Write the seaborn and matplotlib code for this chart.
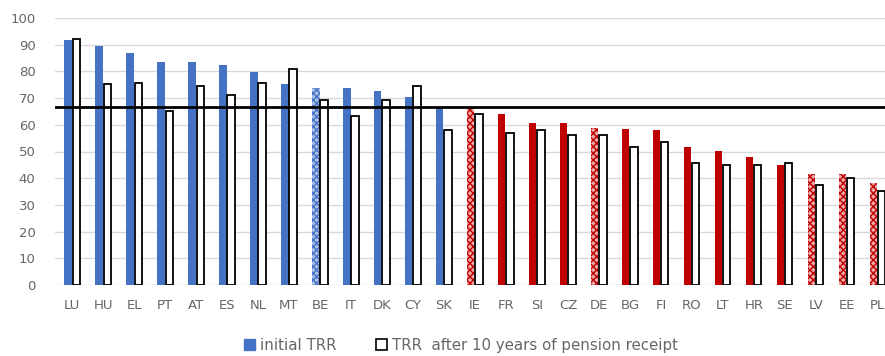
import pandas as pd
import matplotlib
matplotlib.use("Agg")
import matplotlib.pyplot as plt
from matplotlib.patches import Patch
import seaborn as sns

#   Data
countries = ["LU", "HU", "EL", "PT", "AT", "ES", "NL", "MT", "BE", "IT", "DK", "CY", "SK",
             "IE", "FR", "SI", "CZ", "DE", "BG", "FI", "RO", "LT", "HR", "SE", "LV", "EE", "PL"]
initial_trr = [91.6, 89.7, 87.0, 83.7, 83.4, 82.5, 79.9, 75.3, 73.8, 73.8, 72.6, 70.4, 66.7,
               66.4, 64.0, 60.8, 60.8, 58.9, 58.3, 58.2, 51.6, 50.3, 47.9, 45.0, 41.4, 41.4, 38.1]
trr_after_10 = [92.0, 75.1, 75.8, 65.3, 74.4, 71.0, 75.8, 81.0, 69.2, 63.3, 69.2, 74.4, 57.9,
                63.9, 56.8, 58.2, 56.1, 56.1, 51.7, 53.6, 45.7, 45.0, 45.0, 45.7, 37.3, 39.9, 35.1]
# group of each country: "b" blue, "r" red; dotted = patterned bar
groups = ["b"] * 13 + ["r"] * 14
dotted = ["BE", "IE", "DE", "LV", "EE", "PL"]
reference_level = 66.7

series_names = ["initial TRR", "TRR  after 10 years of pension receipt"]

df = pd.DataFrame({
    "country": countries * 2,
    "value": initial_trr + trr_after_10,
    "series": [series_names[0]] * len(countries) + [series_names[1]] * len(countries),
})

BLUE = "#4472C4"
RED = "#C00000"
GREY = "#666666"

sns.set_style("white")
plt.rcParams["font.family"] = ["DejaVu Sans"]

fig = plt.figure(figsize=(8.85, 3.56), dpi=100)
ax = fig.add_axes([55 / 885, 1 - 285 / 356, 1 - 55 / 885, 267 / 356])

sns.barplot(data=df, x="country", y="value", hue="series", hue_order=series_names,
            palette=[BLUE, "white"], width=0.52, gap=0.12, legend=False, ax=ax)

#   Recolour the bars
for bar, c, g in zip(ax.containers[0], countries, groups):
    col = BLUE if g == "b" else RED
    if c in dotted:
        light = "#a9bfe6" if g == "b" else "#f0a8a8"
        bar.set_facecolor(light)
        bar.set_edgecolor(col)
        bar.set_hatch("xxxxx")
        bar.set_linewidth(0)
    else:
        bar.set_facecolor(col)
        bar.set_linewidth(0)

for bar in ax.containers[1]:
    bar.set_facecolor("white")
    bar.set_edgecolor("black")
    bar.set_linewidth(1.3)

ax.axhline(reference_level, color="black", lw=2, zorder=5)

ax.set_ylim(0, 100)
ax.set_xlim(-0.55, 26.23)
ax.set_yticks(range(0, 101, 10))
ax.grid(axis="y", color="#D9D9D9", lw=1)
ax.set_axisbelow(True)
for s in ax.spines.values():
    s.set_visible(False)
ax.tick_params(axis="both", length=0, labelsize=9.5, labelcolor=GREY)
ax.tick_params(axis="x", pad=10)
ax.tick_params(axis="y", pad=14)
ax.set_xlabel("")
ax.set_ylabel("")

handles = [Patch(facecolor=BLUE, edgecolor=BLUE),
           Patch(facecolor="white", edgecolor="black", linewidth=1.2)]
fig.legend(handles, series_names, loc="center", bbox_to_anchor=(0.521, 0.03), ncol=2,
           frameon=False, fontsize=10.8, labelcolor=GREY, handlelength=0.75, handleheight=0.75,
           handletextpad=0.35, columnspacing=2.6)

fig.savefig("out.png", dpi=100)
